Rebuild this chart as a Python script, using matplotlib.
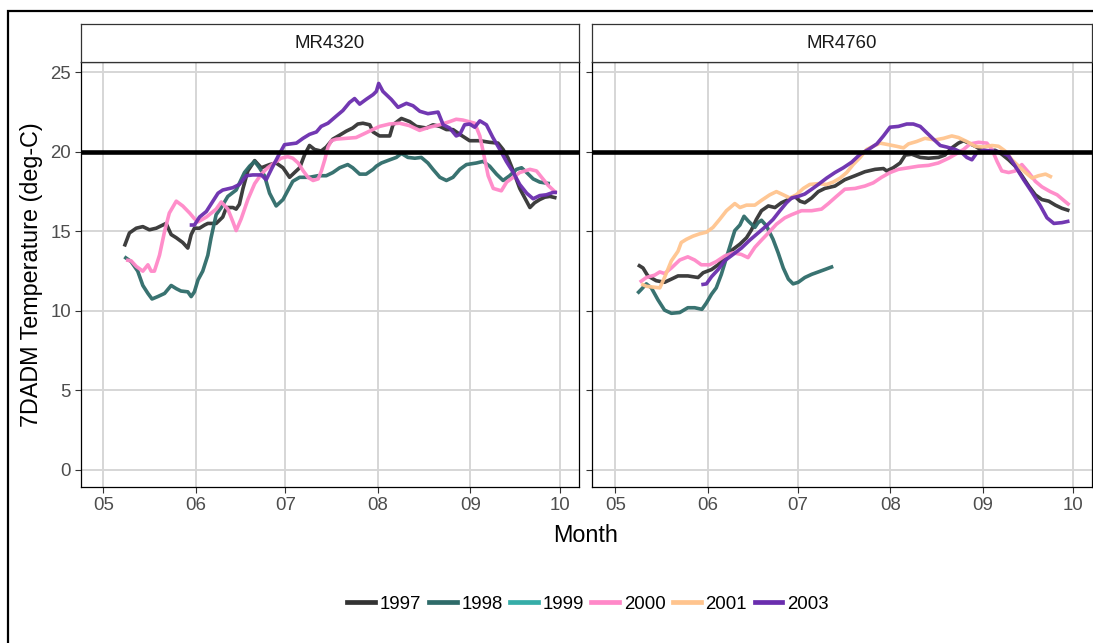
import numpy as np
import matplotlib
matplotlib.use("Agg")
import matplotlib.pyplot as plt
from matplotlib.lines import Line2D
from matplotlib.patches import Rectangle

plt.rcParams['font.family'] = ['Liberation Sans', 'DejaVu Sans']

# ---- data: 7-day average daily maximum temperature (deg C) ----
# x values are days after May 1
years = ["1997", "1998", "1999", "2000", "2001", "2003"]
year_colors = {"1997": "#333333", "1998": "#2E6B69", "1999": "#35ADA8",
               "2000": "#FF88C8", "2001": "#FFC48E", "2003": "#6A2DAE"}
sites = ["MR4320", "MR4760"]
threshold = 20

mr4320_1997_day = [7, 8.7, 11, 13.2, 15.4, 17.7, 21, 22.7, 24.4, 26.6, 28.3, 29.4, 30.5, 32.2, 33.9, 35,
                   37.8, 40, 41.2, 43.4, 44.5, 45.6, 46.8, 48.4, 50.7, 52.9, 55.7, 57.9, 60.2, 62.4, 64.1,
                   65.8, 67.4, 69.1, 70.8, 73, 74.7, 76.9, 79.2, 81.4, 83.6, 85.3, 87, 89.3, 90.4, 92.6,
                   96, 97.1, 99.9, 102.7, 104.9, 108.3, 110.5, 112.8, 115, 117.2, 119.5, 122.8, 126.2,
                   129.5, 132.3, 134, 135.7, 137.4, 139.6, 141.3, 143, 144.6, 146.3, 148, 149.7, 151.9]
mr4320_1997_temp = [14.05, 14.9, 15.2, 15.3, 15.1, 15.2, 15.5, 14.8, 14.6, 14.3, 13.95, 14.8, 15.2, 15.2,
                    15.4, 15.5, 15.5, 15.9, 16.5, 16.5, 16.4, 16.7, 17.7, 18.8, 19.45, 19.0, 19.2, 19.3,
                    19.0, 18.4, 18.7, 19.0, 19.8, 20.4, 20.15, 20.05, 20.3, 20.8, 21.05, 21.3, 21.5,
                    21.75, 21.8, 21.7, 21.25, 21.0, 21.0, 21.7, 22.1, 21.9, 21.6, 21.5, 21.7, 21.6,
                    21.4, 21.4, 21.1, 20.7, 20.7, 20.6, 20.55, 20.15, 19.6, 18.8, 17.7, 17.1, 16.5,
                    16.8, 17.0, 17.15, 17.2, 17.1]

mr4320_1998_day = [7, 9.3, 11.5, 13.2, 14.9, 16.3, 18.2, 20.5, 22.7, 24.4, 26, 28.3, 29.4, 30.5, 31.7,
                   33.3, 35, 36.1, 37.8, 39.5, 41.7, 44.5, 47.3, 49, 50.7, 52.3, 54, 55.7, 57.9, 60.2,
                   61.9, 63.5, 65.8, 69.1, 71.9, 74.7, 76.9, 79.2, 81.9, 83.6, 85.9, 88.1, 90.4, 91.5,
                   93.2, 96, 98.2, 99.9, 102.1, 104.4, 106.6, 108.8, 110.5, 112.8, 115, 117.2, 119.5,
                   121.7, 125.1, 127.3, 129.5, 131.8, 134, 136.2, 138.5, 140.2, 141.9, 144.1, 146.3,
                   148, 149.7]
mr4320_1998_temp = [13.4, 13.1, 12.5, 11.6, 11.1, 10.75, 10.9, 11.1, 11.6, 11.4, 11.25, 11.2, 10.9, 11.2,
                    11.95, 12.5, 13.5, 14.6, 16.05, 16.5, 17.2, 17.6, 18.7, 19.1, 19.4, 19.0, 18.5,
                    17.4, 16.6, 17.0, 17.6, 18.15, 18.4, 18.4, 18.5, 18.5, 18.7, 19.0, 19.2, 19.0,
                    18.6, 18.6, 18.9, 19.1, 19.3, 19.5, 19.65, 19.9, 19.65, 19.6, 19.65, 19.3, 18.9,
                    18.4, 18.2, 18.4, 18.9, 19.2, 19.3, 19.4, 19.1, 18.6, 18.2, 18.5, 18.9, 19.0,
                    18.7, 18.3, 18.1, 18.05, 18.0]

mr4320_2000_day = [7.6, 9.3, 11, 13.2, 14.9, 16, 17.1, 18.8, 20.5, 22.1, 24.4, 26.6, 28.9, 30.5, 31.7,
                   34.5, 37.8, 39.5, 41.7, 43.4, 44.5, 46.2, 48.4, 50.7, 52.9, 55.1, 57.3, 59.5, 61.8,
                   63.5, 65.3, 67, 68.6, 70.3, 72, 73.1, 74.2, 75.3, 76.4, 78.1, 81.4, 84.7, 88.1,
                   90.3, 92.6, 95.9, 99.3, 102.6, 106, 109.3, 112.7, 116.1, 118.3, 120.5, 122.5, 124.5,
                   126.2, 127.8, 129, 130.7, 133.4, 135.2, 137.4, 139.6, 143, 145.2, 146.9, 149.1, 151.9]
mr4320_2000_temp = [13.2, 13.15, 12.8, 12.5, 12.9, 12.5, 12.5, 13.5, 15.0, 16.15, 16.9, 16.6, 16.15,
                    15.8, 15.6, 15.9, 16.4, 16.85, 16.4, 15.6, 15.05, 15.8, 17.0, 18.0, 18.6, 19.0,
                    19.3, 19.6, 19.7, 19.6, 19.3, 18.8, 18.4, 18.2, 18.3, 18.8, 19.5, 20.3, 20.7,
                    20.8, 20.85, 20.9, 21.2, 21.4, 21.6, 21.75, 21.8, 21.65, 21.35, 21.55, 21.7,
                    21.9, 22.05, 22.0, 21.9, 21.8, 21.0, 19.6, 18.5, 17.7, 17.55, 18.1, 18.4, 18.7,
                    18.9, 18.8, 18.4, 17.9, 17.4]

mr4320_2003_day = [28.9, 30.5, 32.2, 34.5, 36.7, 38.4, 40, 43.4, 45.6, 47.9, 50.1, 52.9, 54.6, 56.3,
                   58.5, 60.7, 64.7, 66.9, 69.1, 71.4, 73, 75.3, 78.1, 80.3, 82.5, 84.2, 85.9, 88.1,
                   90.4, 91.5, 92.3, 93.7, 96.5, 98.8, 101.6, 103.8, 106.1, 108.8, 112.2, 113.9, 116.1,
                   118.3, 119.5, 121.1, 122.8, 124.5, 126.2, 128.4, 130.6, 132.9, 135.1, 137.4, 139.6,
                   141.9, 144.1, 146.3, 148.5, 150.8, 152.1]
mr4320_2003_temp = [15.4, 15.4, 15.9, 16.25, 16.9, 17.4, 17.6, 17.75, 17.95, 18.5, 18.55, 18.55, 18.25,
                    18.9, 19.7, 20.45, 20.55, 20.85, 21.1, 21.25, 21.6, 21.8, 22.25, 22.6, 23.1, 23.35,
                    23.0, 23.3, 23.6, 23.8, 24.3, 23.8, 23.3, 22.8, 23.05, 22.9, 22.55, 22.4, 22.5,
                    21.7, 21.5, 21.0, 21.1, 21.7, 21.75, 21.55, 21.95, 21.7, 20.9, 20.15, 19.4, 18.7,
                    17.95, 17.4, 17.05, 17.25, 17.3, 17.45, 17.45]

mr4760_1997_day = [7.6, 9.3, 10.9, 13.7, 16.5, 18.8, 21, 24.3, 27.7, 29.4, 32.2, 34.4, 36.6, 38.9, 41.7,
                   43.9, 45.6, 47.2, 48.9, 51.2, 53.4, 55.6, 57.9, 60.1, 61.8, 63.4, 65.7, 67.9, 70.1,
                   73.5, 76.8, 80.2, 83.5, 86.9, 89.7, 90.8, 93, 95.3, 97, 99.2, 102, 104.8, 108.1,
                   110.3, 112.6, 114.8, 116.5, 118.2, 120.4, 122.6, 124.9, 127.1, 129.3, 131.6, 133.8,
                   136, 138.3, 140.5, 142.7, 145, 147.2, 149.4, 151.9]
mr4760_1997_temp = [12.9, 12.7, 12.2, 11.9, 11.8, 12.0, 12.2, 12.2, 12.1, 12.4, 12.6, 12.9, 13.35, 13.8,
                    14.2, 14.6, 15.1, 15.75, 16.3, 16.6, 16.5, 16.8, 17.0, 17.2, 16.9, 16.8, 17.1,
                    17.5, 17.7, 17.85, 18.25, 18.5, 18.75, 18.9, 18.95, 18.8, 19.0, 19.3, 19.8, 19.85,
                    19.65, 19.6, 19.65, 19.8, 20.25, 20.55, 20.7, 20.55, 20.35, 20.1, 20.05, 20.1,
                    19.85, 19.5, 19.1, 18.5, 17.85, 17.3, 17.0, 16.9, 16.65, 16.45, 16.3]

mr4760_1998_day = [7.4, 8.7, 10.4, 12.1, 14.3, 16.5, 18.8, 21.6, 24.3, 26.6, 29, 30.5, 32.2, 33.8, 35.5,
                   37.2, 38.9, 40, 41.7, 43.1, 44.5, 46.7, 47.8, 48.9, 50.6, 52.8, 54.5, 56.2, 57.9,
                   59.5, 61.2, 63.4, 65.7, 67.9, 70.1, 72.9]
mr4760_1998_temp = [11.1, 11.35, 11.7, 11.45, 10.7, 10.05, 9.85, 9.9, 10.2, 10.2, 10.1, 10.5, 11.05,
                    11.45, 12.3, 13.35, 14.4, 15.05, 15.4, 15.95, 15.65, 15.25, 15.55, 15.7, 15.35,
                    14.5, 13.65, 12.7, 12.0, 11.7, 11.8, 12.1, 12.3, 12.45, 12.6, 12.8]

mr4760_2000_day = [8.2, 10.4, 13.2, 14.9, 16.5, 18.8, 21.6, 24.3, 26.6, 28.8, 31.6, 33.8, 36.6, 39.4,
                   42.2, 44.4, 46.7, 48.9, 51.2, 53.9, 56.7, 59, 62.3, 65.7, 69, 71.3, 74, 76.8, 80.2,
                   83.5, 86.3, 89.1, 91.9, 94.7, 98.1, 101.4, 104.8, 108.1, 111.5, 114.3, 116.5, 118.7,
                   121.5, 124.3, 126, 127.7, 129.3, 131.6, 133.8, 136, 138.3, 140.5, 142.7, 145.5,
                   147.8, 150, 151.9]
mr4760_2000_temp = [11.8, 12.1, 12.25, 12.45, 12.35, 12.7, 13.2, 13.4, 13.2, 12.9, 12.9, 13.1, 13.45,
                    13.65, 13.55, 13.35, 14.0, 14.45, 14.9, 15.45, 15.85, 16.05, 16.3, 16.3, 16.4,
                    16.75, 17.2, 17.65, 17.7, 17.85, 18.05, 18.4, 18.7, 18.9, 19.0, 19.1, 19.15, 19.3,
                    19.6, 19.9, 20.15, 20.5, 20.6, 20.55, 20.15, 19.4, 18.8, 18.7, 18.8, 19.2, 18.7,
                    18.15, 17.8, 17.5, 17.3, 16.95, 16.65]

mr4760_2001_day = [8.7, 10.4, 12.6, 14.9, 16.5, 18.8, 21, 22.1, 23.8, 26, 28.3, 30.5, 32.7, 34.9, 37.2,
                   40, 41.7, 43.9, 46.7, 48.9, 51.7, 53.9, 56.2, 58.4, 60.6, 62.9, 65.1, 67.9, 70.7,
                   72.9, 75.2, 77.4, 79.6, 81.9, 84.1, 86.3, 88.6, 91.4, 94.1, 96.4, 98.1, 100.8,
                   103.6, 107, 109.8, 112.6, 114.8, 117.6, 120.4, 123.2, 126, 128.2, 130.4, 132.7,
                   134.9, 137.2, 139.4, 141.6, 143.9, 146.1]
mr4760_2001_temp = [11.7, 11.55, 11.5, 11.45, 12.1, 13.15, 13.75, 14.3, 14.5, 14.7, 14.85, 14.95,
                    15.25, 15.75, 16.3, 16.75, 16.5, 16.65, 16.65, 16.95, 17.3, 17.5, 17.3, 17.1,
                    17.3, 17.7, 17.95, 18.0, 17.95, 18.1, 18.35, 18.7, 19.2, 19.65, 20.15, 20.35,
                    20.55, 20.45, 20.35, 20.25, 20.5, 20.65, 20.85, 20.75, 20.85, 21.0, 20.9, 20.65,
                    20.35, 20.3, 20.4, 20.35, 20.05, 19.5, 19.1, 18.7, 18.35, 18.5, 18.6, 18.4]

mr4760_2003_day = [28.8, 30.5, 32.2, 34.4, 36.6, 39.4, 42.2, 45, 47.8, 50.6, 52.8, 55.1, 57.3, 59, 61.2,
                   63.4, 65.7, 67.9, 70.7, 73.5, 76.3, 79.1, 81.9, 84.7, 87.5, 89.7, 91.9, 94.7, 97.5,
                   99.7, 102, 104.2, 106.4, 108.7, 110.9, 113.7, 115.9, 117.6, 119.3, 121, 123.2, 126,
                   128.8, 131.6, 133.8, 136.6, 139.4, 142.2, 144.4, 146.7, 149.4, 151.9]
mr4760_2003_temp = [11.65, 11.7, 12.15, 12.6, 13.15, 13.55, 13.95, 14.45, 14.9, 15.35, 15.75, 16.3,
                    16.8, 17.1, 17.2, 17.35, 17.65, 17.95, 18.35, 18.7, 19.0, 19.35, 19.85, 20.15,
                    20.5, 21.0, 21.55, 21.6, 21.75, 21.75, 21.6, 21.2, 20.8, 20.4, 20.3, 20.15, 19.95,
                    19.65, 19.5, 19.95, 20.1, 20.05, 20.0, 19.75, 19.1, 18.25, 17.45, 16.6, 15.85,
                    15.5, 15.55, 15.65]

series = {
    "MR4320": {"1997": (mr4320_1997_day, mr4320_1997_temp),
               "1998": (mr4320_1998_day, mr4320_1998_temp),
               "2000": (mr4320_2000_day, mr4320_2000_temp),
               "2003": (mr4320_2003_day, mr4320_2003_temp)},
    "MR4760": {"1997": (mr4760_1997_day, mr4760_1997_temp),
               "1998": (mr4760_1998_day, mr4760_1998_temp),
               "2000": (mr4760_2000_day, mr4760_2000_temp),
               "2001": (mr4760_2001_day, mr4760_2001_temp),
               "2003": (mr4760_2003_day, mr4760_2003_temp)},
}

month_labels = ["05", "06", "07", "08", "09", "10"]
month_starts = np.array(["2000-05-01", "2000-06-01", "2000-07-01", "2000-08-01",
                         "2000-09-01", "2000-10-01"], dtype="datetime64[D]")
season_start = np.datetime64("2000-05-01")
y_ticks = [0, 5, 10, 15, 20, 25]


def to_dates(days):
    return season_start + np.round(np.array(days) * 24).astype("timedelta64[h]")


# ---- figure ----
W, H = 1093, 643
fig = plt.figure(figsize=(W / 100, H / 100), dpi=100)

# outer frame
fig.add_artist(Rectangle((8 / W, -0.05), 1.2, 1 - 11 / H + 0.05, transform=fig.transFigure,
                         fill=False, edgecolor="black", linewidth=1.6))

panel_x = [(80.7, 579.0), (592.4, 1092.0)]
p_top, p_bot = 62.3, 487.0
strip_top = 24.0
x_lo = season_start - np.timedelta64(183, "h")
x_hi = np.datetime64("2000-10-01") + np.timedelta64(155, "h")

grid_col = "#D6D6D6"
tick_col = "#4D4D4D"
small = 13.4
big = 16.8

for i, (site, (x0, x1)) in enumerate(zip(sites, panel_x)):
    ax = fig.add_axes([x0 / W, 1 - p_bot / H, (x1 - x0) / W, (p_bot - p_top) / H])
    ax.set_xlim(x_lo, x_hi)
    ax.set_ylim(-1.07, 25.63)
    ax.set_xticks(month_starts)
    ax.set_xticklabels(month_labels)
    ax.set_yticks(y_ticks)
    if i == 0:
        ax.set_yticklabels([str(v) for v in y_ticks])
    else:
        ax.set_yticklabels([])
        ax.tick_params(axis="y", length=0)
    ax.grid(True, color=grid_col, linewidth=1.4)
    ax.set_axisbelow(True)
    ax.tick_params(colors="#333333", labelcolor=tick_col, labelsize=small, length=4, width=0.8,
                   pad=3)
    for s in ax.spines.values():
        s.set_color("black")
        s.set_linewidth(0.9)

    for yr in years:
        if yr in series[site]:
            d, t = series[site][yr]
            ax.plot(to_dates(d), t, color=year_colors[yr], linewidth=2.6, alpha=0.95,
                    solid_joinstyle="round", solid_capstyle="butt")
    ax.axhline(threshold, color="black", linewidth=3.3, zorder=3)

    # facet strip
    sax = fig.add_axes([x0 / W, 1 - p_top / H, (x1 - x0) / W, (p_top - strip_top) / H])
    sax.set_xticks([])
    sax.set_yticks([])
    for s in sax.spines.values():
        s.set_color("#333333")
        s.set_linewidth(0.9)
    sax.text(0.5, 0.5, site, ha="center", va="center", fontsize=small, color="#1A1A1A",
             transform=sax.transAxes)

fig.text(32 / W, 1 - 275 / H, "7DADM Temperature (deg-C)", rotation=90, ha="center",
         va="center", fontsize=big, color="black")
fig.text(586 / W, 1 - 535 / H, "Month", ha="center", va="center", fontsize=big, color="black")

handles = [Line2D([], [], color=year_colors[yr], linewidth=3.4) for yr in years]
fig.legend(handles, years, loc="center", bbox_to_anchor=(588 / W, 1 - 604 / H), ncol=6,
           frameon=False, fontsize=small, handlelength=1.5, handletextpad=0.25,
           columnspacing=0.4, borderaxespad=0)

fig.savefig("out.png", dpi=100)
